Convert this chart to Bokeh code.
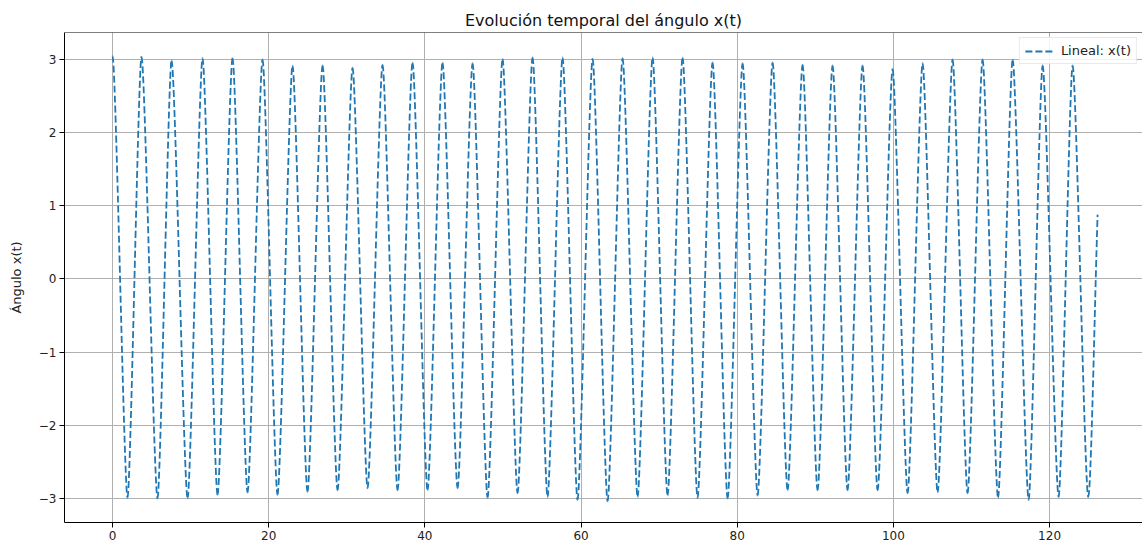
from bokeh.plotting import figure
from bokeh.models import Range1d, FixedTicker, CustomJSTickFormatter, Span
from bokeh.embed import file_html
from bokeh.resources import INLINE

# ---------------- data ----------------
title_text = "Evolución temporal del ángulo x(t)"
y_label = "Ángulo x(t)"
series_label = "Lineal: x(t)"
x_ticks = [0, 20, 40, 60, 80, 100, 120]
y_ticks = [-3, -2, -1, 0, 1, 2, 3]

# maxima of x(t): time, value
peak_t = [0.0, 3.71, 7.56, 11.53, 15.37, 19.21, 23.05, 26.90, 30.74, 34.58, 38.42,
          42.26, 46.11, 49.95, 53.79, 57.63, 61.48, 65.32, 69.16, 73.00, 76.84,
          80.69, 84.53, 88.37, 92.21, 96.05, 99.90, 103.74, 107.58, 111.42, 115.27,
          119.11, 122.95]
peak_x = [3.05, 3.04, 2.99, 3.02, 3.02, 3.00, 2.92, 2.92, 2.89, 2.93, 2.96, 2.96,
          2.95, 3.01, 3.03, 3.03, 3.01, 3.02, 3.03, 3.03, 2.96, 2.95, 2.96, 2.93,
          2.92, 2.92, 2.87, 2.95, 3.00, 3.00, 3.00, 2.92, 2.92]

# minima of x(t): time, value
trough_t = [1.92, 5.76, 9.61, 13.45, 17.29, 21.13, 24.97, 28.82, 32.66, 36.50, 40.34,
            44.19, 48.03, 51.87, 55.71, 59.55, 63.40, 67.24, 71.08, 74.92, 78.77,
            82.61, 86.45, 90.29, 94.13, 97.98, 101.82, 105.66, 109.50, 113.40, 117.32,
            121.16, 124.95]
trough_x = [-2.99, -3.00, -3.00, -2.95, -2.92, -2.95, -2.91, -2.89, -2.86, -2.89, -2.89,
            -2.86, -2.99, -2.93, -2.98, -3.02, -3.04, -2.98, -2.96, -2.99, -3.00, -2.96,
            -2.89, -2.89, -2.89, -2.89, -2.93, -2.92, -2.93, -2.99, -3.02, -2.98, -2.98]

# last sample of the series
end_t = 126.15
end_x = 0.88

# ---------------- build the curve segments (half cycles) ----------------
ext_t, ext_x = [], []
for a, b, c, d in zip(peak_t, peak_x, trough_t, trough_x):
    ext_t += [a, c]
    ext_x += [b, d]

K = 0.22  # bezier handle ratio: sharp tips, nearly straight strokes
sx0, sy0, sx1, sy1, scx0, scy0, scx1, scy1 = ([] for _ in range(8))
for i in range(len(ext_t) - 1):
    t0, v0, t1, v1 = ext_t[i], ext_x[i], ext_t[i + 1], ext_x[i + 1]
    dt = t1 - t0
    sx0.append(t0); sy0.append(v0); sx1.append(t1); sy1.append(v1)
    scx0.append(t0 + K * dt); scy0.append(v0)
    scx1.append(t1 - K * dt); scy1.append(v1)
# final partial rise
t0, v0 = ext_t[-1], ext_x[-1]
dt, dv = end_t - t0, end_x - v0
sx0.append(t0); sy0.append(v0); sx1.append(end_t); sy1.append(end_x)
scx0.append(t0 + 0.3 * dt); scy0.append(v0)
scx1.append(end_t - 0.3 * dt); scy1.append(end_x - 0.3 * dv)

# ---------------- figure ----------------
BLUE = "#1f77b4"
FONT = "DejaVu Sans"

p = figure(width=1142, height=546, output_backend="svg", toolbar_location=None,
           x_range=Range1d(-6.15, 131.9), y_range=Range1d(-3.328, 3.369),
           min_border_left=64, min_border_right=0, min_border_top=32,
           min_border_bottom=24, title=title_text)
p.background_fill_color = "white"
p.border_fill_color = "white"
p.outline_line_color = None

p.title.align = "center"
p.title.text_font = FONT
p.title.text_font_size = "16px"
p.title.text_font_style = "normal"
p.title.text_color = "#111111"
p.title.standoff = 5

fmt = CustomJSTickFormatter(code="return tick < 0 ? '\u2212' + Math.abs(tick) : String(tick);")
for ax in (p.xaxis[0], p.yaxis[0]):
    ax.major_label_text_font = FONT
    ax.major_label_text_font_size = "12px"
    ax.major_label_text_color = "#222222"
    ax.major_tick_out = 5
    ax.major_tick_in = 0
    ax.minor_tick_line_color = None
    ax.axis_line_color = "black"
    ax.axis_line_width = 1
    ax.major_tick_line_color = "black"
    ax.major_label_standoff = 3
    ax.formatter = fmt
p.xaxis[0].ticker = FixedTicker(ticks=x_ticks)
p.yaxis[0].ticker = FixedTicker(ticks=y_ticks)
p.yaxis[0].axis_label = y_label
p.yaxis[0].axis_label_text_font = FONT
p.yaxis[0].axis_label_text_font_size = "13px"
p.yaxis[0].axis_label_text_font_style = "normal"
p.yaxis[0].axis_label_text_color = "#222222"
p.yaxis[0].axis_label_standoff = 12

p.xgrid.ticker = FixedTicker(ticks=x_ticks)
p.ygrid.ticker = FixedTicker(ticks=y_ticks)
for g in (p.xgrid[0], p.ygrid[0]):
    g.grid_line_color = "#b0b0b0"
    g.grid_line_width = 1

# top spine
p.add_layout(Span(location=3.369, dimension="width", line_color="black", line_width=1))

p.bezier(x0=sx0, y0=sy0, x1=sx1, y1=sy1, cx0=scx0, cy0=scy0, cx1=scx1, cy1=scy1,
         line_color=BLUE, line_width=1.8, line_dash="7 3")
# legend entry (no visible data of its own)
nan = float("nan")
p.line(x=[nan, nan], y=[nan, nan], line_color=BLUE, line_width=1.8, line_dash="7 3",
       legend_label=series_label)

lg = p.legend[0]
lg.location = "top_right"
lg.margin = 5
lg.padding = 5
lg.spacing = 0
lg.glyph_width = 28
lg.glyph_height = 14
lg.label_standoff = 8
lg.label_text_font = FONT
lg.label_text_font_size = "13px"
lg.label_text_color = "#222222"
lg.border_line_color = "#d5d5d5"
lg.border_line_width = 1
lg.background_fill_color = "white"
lg.background_fill_alpha = 0.85

with open("out.html", "w", encoding="utf-8") as f:
    f.write(file_html(p, INLINE))
